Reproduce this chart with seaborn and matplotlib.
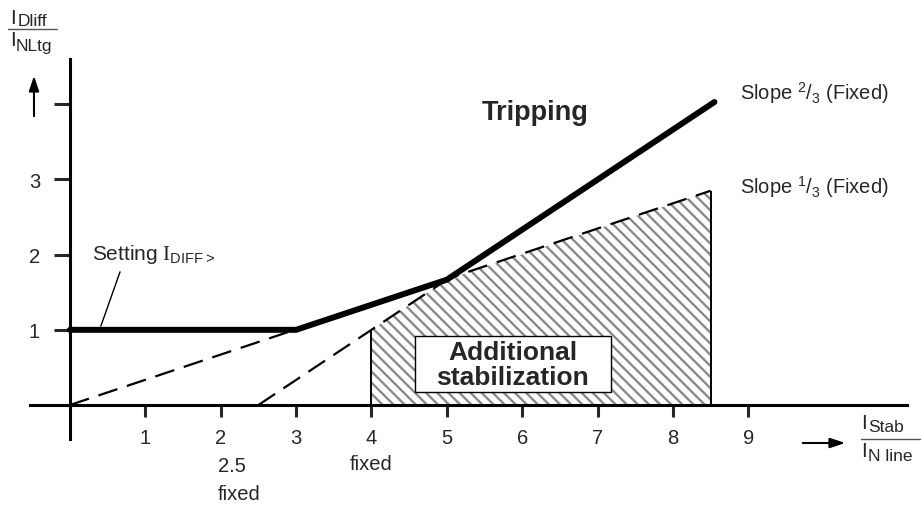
import numpy as np
import matplotlib
matplotlib.use("Agg")
import matplotlib.pyplot as plt
from matplotlib.lines import Line2D
from matplotlib.patches import Rectangle
import seaborn as sns

# characteristic (thick line)
trip_x = [0, 3, 5, 8.55]
trip_y = [1, 1, 1.667, 4.03]
# slope 1/3 through origin (dashed)
slope13_x = [0, 8.5]
slope13_y = [0, 2.85]
# slope 2/3 starting at 2.5 (dashed)
slope23_x = [2.5, 5]
slope23_y = [0, 1.667]
# additional stabilization area
stab_x = [4, 5, 8.5]
stab_top = [1, 1.667, 2.85]

x_ticks = [1, 2, 3, 4, 5, 6, 7, 8, 9]
y_ticks = [1, 2, 3, 4]
y_tick_labels = ["1", "2", "3", ""]

sns.set_style("white")
plt.rcParams["font.family"] = ["Liberation Sans", "DejaVu Sans"]
plt.rcParams["mathtext.fontset"] = "custom"
plt.rcParams["mathtext.rm"] = "Liberation Serif"
plt.rcParams["mathtext.sf"] = "Liberation Sans"
plt.rcParams["hatch.linewidth"] = 1.7

fig = plt.figure(figsize=(9.21, 5.06), dpi=100)
ax = fig.add_axes([0, 0, 1, 1])
ax.set_xlim(-0.928, 11.29)
ax.set_ylim(-1.33, 5.40)

# hatched area
ax.fill_between(stab_x, 0, stab_top, facecolor="white", edgecolor="#8a8a8a",
                hatch="\\\\\\", linewidth=0, zorder=1)
ax.vlines([stab_x[0], stab_x[-1]], 0, [stab_top[0], stab_top[-1]],
          color="black", linewidth=1.4, zorder=2)

sns.lineplot(x=slope13_x, y=slope13_y, ax=ax, color="black", linewidth=1.6,
             linestyle=(0, (9, 4.5)), sort=False, estimator=None, zorder=3)
sns.lineplot(x=slope23_x, y=slope23_y, ax=ax, color="black", linewidth=1.6,
             linestyle=(0, (9, 4.5)), sort=False, estimator=None, zorder=3)
sns.lineplot(x=trip_x, y=trip_y, ax=ax, color="black", linewidth=4.3,
             sort=False, estimator=None, zorder=4, solid_capstyle="round")

# axes through origin
for side in ["top", "right"]:
    ax.spines[side].set_visible(False)
ax.spines["left"].set_position(("data", 0))
ax.spines["bottom"].set_position(("data", 0))
ax.spines["left"].set_bounds(-0.45, 4.6)
ax.spines["bottom"].set_bounds(-0.53, 11.1)
for side in ["left", "bottom"]:
    ax.spines[side].set_linewidth(2.2)
    ax.spines[side].set_color("black")

ax.set_xticks(x_ticks)
ax.set_xticklabels([str(t) for t in x_ticks])
ax.set_yticks(y_ticks)
ax.set_yticklabels(y_tick_labels)
ax.tick_params(axis="x", direction="out", length=8.6, width=2.2, pad=8,
               labelsize=14.5, bottom=True)
ax.tick_params(axis="y", direction="out", length=11.5, width=2.2, pad=10,
               labelsize=14.5, left=True)

ax.text(1.96, -0.99, "2.5\nfixed", ha="left", va="center", fontsize=14.5,
        linespacing=1.55)
ax.text(4, -0.78, "fixed", ha="center", va="center", fontsize=14.5)

# annotations
ax.text(6.17, 3.9, "Tripping", ha="center", va="center", fontsize=19.5,
        fontweight="bold")
ax.text(8.89, 4.16, r"Slope $^{\mathsf{2}}\mathsf{/}_{\mathsf{3}}$ (Fixed)",
        ha="left", va="center", fontsize=14.5)
ax.text(8.89, 2.91, r"Slope $^{\mathsf{1}}\mathsf{/}_{\mathsf{3}}$ (Fixed)",
        ha="left", va="center", fontsize=14.5)
ax.annotate(r"Setting $\mathrm{I}_{\mathsf{DIFF>}}$", xy=(0.41, 1.05),
            xytext=(0.29, 2.02), ha="left", va="center", fontsize=15,
            arrowprops=dict(arrowstyle="-", color="black", lw=1,
                            relpos=(0.25, 0), shrinkA=3, shrinkB=0))

# label box for the stabilization area
ax.add_patch(Rectangle((4.575, 0.173), 2.6, 0.745, facecolor="white",
                       edgecolor="black", linewidth=1, zorder=5))
ax.text(5.875, 0.545, "Additional\nstabilization", ha="center", va="center",
        fontsize=19, fontweight="bold", linespacing=1.05, zorder=6)

# axis quantity labels (figure pixel coords, origin bottom-left)
H = 506
fig.text(10 / 921, (H - 18) / H, r"$\mathsf{I}$", fontsize=15, va="center")
fig.text(18 / 921, (H - 22) / H, "Dliff", fontsize=12.5, va="center")
fig.add_artist(Line2D([8 / 921, 57 / 921], [(H - 30) / H, (H - 30) / H],
                      color="#555555", lw=1))
fig.text(10 / 921, (H - 41) / H, r"$\mathsf{I}$", fontsize=15, va="center")
fig.text(16 / 921, (H - 47) / H, "NLtg", fontsize=12.5, va="center")
ax.annotate("", xy=(34, H - 74), xytext=(34, H - 120),
            xycoords="figure pixels", textcoords="figure pixels",
            arrowprops=dict(arrowstyle="-|>,head_length=0.9,head_width=0.3",
                            color="black", lw=1.5))

fig.text(861 / 921, (H - 424) / H, r"$\mathsf{I}$", fontsize=15, va="center")
fig.text(868 / 921, (H - 428) / H, "Stab", fontsize=12.5, va="center")
fig.add_artist(Line2D([861 / 921, 920 / 921], [(H - 440) / H, (H - 440) / H],
                      color="#555555", lw=1))
fig.text(861 / 921, (H - 452) / H, r"$\mathsf{I}$", fontsize=15, va="center")
fig.text(868 / 921, (H - 457) / H, "N line", fontsize=12.5, va="center")
ax.annotate("", xy=(848, H - 444), xytext=(800, H - 444),
            xycoords="figure pixels", textcoords="figure pixels",
            arrowprops=dict(arrowstyle="-|>,head_length=0.9,head_width=0.3",
                            color="black", lw=1.5))

fig.savefig("out.png", dpi=100)
